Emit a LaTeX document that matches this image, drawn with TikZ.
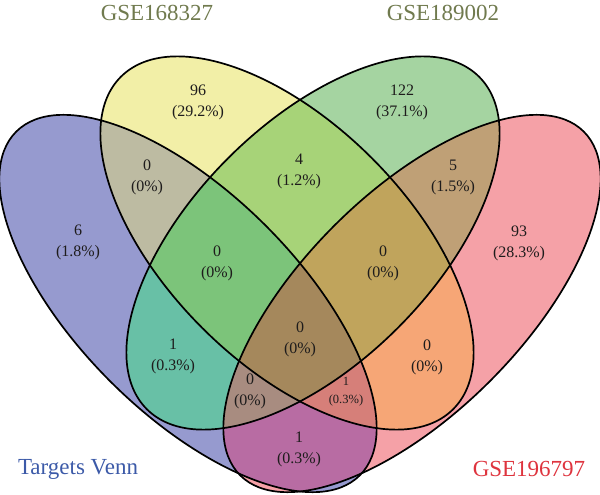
\documentclass[tikz,border=0pt]{standalone}
\usepackage{fontspec}
\setmainfont{Liberation Serif}
\definecolor{cA}{RGB}{150,154,207}
\definecolor{cB}{RGB}{242,239,167}
\definecolor{cC}{RGB}{165,212,161}
\definecolor{cD}{RGB}{245,161,167}
\definecolor{cAB}{RGB}{189,187,162}
\definecolor{cAC}{RGB}{104,192,166}
\definecolor{cAD}{RGB}{184,108,163}
\definecolor{cBC}{RGB}{167,211,120}
\definecolor{cBD}{RGB}{246,166,118}
\definecolor{cCD}{RGB}{191,160,118}
\definecolor{cABC}{RGB}{124,196,122}
\definecolor{cABD}{RGB}{214,127,121}
\definecolor{cACD}{RGB}{168,140,128}
\definecolor{cBCD}{RGB}{192,164,92}
\definecolor{cABCD}{RGB}{165,136,92}
\definecolor{olivecat}{RGB}{112,122,78}
\definecolor{bluecat}{RGB}{60,90,168}
\definecolor{redcat}{RGB}{222,52,62}
\definecolor{numtxt}{RGB}{30,28,28}
\newcommand\clipEA{\clip[rotate around={-45:(188,303.5)}] (188,303.5) ellipse [x radius=243pt, y radius=110pt];}
\newcommand\clipEB{\clip[rotate around={-45:(287,243)}] (287,243) ellipse [x radius=235pt, y radius=120pt];}
\newcommand\clipEC{\clip[rotate around={45:(313,243)}] (313,243) ellipse [x radius=235pt, y radius=120pt];}
\newcommand\clipED{\clip[rotate around={45:(412,303.5)}] (412,303.5) ellipse [x radius=243pt, y radius=110pt];}
\newcommand\regfill[2]{\begin{scope}#1\fill[#2] (0,0) rectangle (600,495);\end{scope}}
\begin{document}
\begin{tikzpicture}[x=1pt,y=-1pt,
  lab/.style={font=\fontsize{16}{21}\selectfont, align=center, text=numtxt, inner sep=0pt},
  slab/.style={font=\fontsize{12.5}{18}\selectfont, align=center, text=numtxt, inner sep=0pt},
  cat/.style={font=\fontsize{23}{23}\selectfont, inner sep=0pt},
  setline/.style={draw=black, line width=1.7pt}]
\useasboundingbox (0,0) rectangle (600,495);
% region fills (painter order by number of sets)
\regfill{\clipEA}{cA}
\regfill{\clipEB}{cB}
\regfill{\clipEC}{cC}
\regfill{\clipED}{cD}
\regfill{\clipEA\clipEB}{cAB}
\regfill{\clipEA\clipEC}{cAC}
\regfill{\clipEA\clipED}{cAD}
\regfill{\clipEB\clipEC}{cBC}
\regfill{\clipEB\clipED}{cBD}
\regfill{\clipEC\clipED}{cCD}
\regfill{\clipEA\clipEB\clipEC}{cABC}
\regfill{\clipEA\clipEB\clipED}{cABD}
\regfill{\clipEA\clipEC\clipED}{cACD}
\regfill{\clipEB\clipEC\clipED}{cBCD}
\regfill{\clipEA\clipEB\clipEC\clipED}{cABCD}
% outlines
\draw[setline, rotate around={-45:(188,303.5)}] (188,303.5) ellipse [x radius=243pt, y radius=110pt];
\draw[setline, rotate around={-45:(287,243)}] (287,243) ellipse [x radius=235pt, y radius=120pt];
\draw[setline, rotate around={45:(313,243)}] (313,243) ellipse [x radius=235pt, y radius=120pt];
\draw[setline, rotate around={45:(412,303.5)}] (412,303.5) ellipse [x radius=243pt, y radius=110pt];
% region labels
\node[lab] (rA) at (78,242.5) {6\\(1.8\%)};
\node[lab] (rB) at (198,102) {96\\(29.2\%)};
\node[lab] (rC) at (402,102) {122\\(37.1\%)};
\node[lab] (rD) at (519,243) {93\\(28.3\%)};
\node[lab] (rAB) at (147,177.5) {0\\(0\%)};
\node[lab] (rBC) at (299,171.5) {4\\(1.2\%)};
\node[lab] (rCD) at (453,177) {5\\(1.5\%)};
\node[lab] (rABC) at (217,263.5) {0\\(0\%)};
\node[lab] (rBCD) at (383,263.5) {0\\(0\%)};
\node[lab] (rAC) at (173,356.5) {1\\(0.3\%)};
\node[lab] (rBD) at (427,357.5) {0\\(0\%)};
\node[lab] (rABCD) at (300,339.5) {0\\(0\%)};
\node[lab] (rACD) at (250,391) {0\\(0\%)};
\node[slab] (rABD) at (346,392) {1\\(0.3\%)};
\node[lab] (rAD) at (299,449) {1\\(0.3\%)};
% category labels
\node[cat, text=olivecat] (catB) at (157,13) {GSE168327};
\node[cat, text=olivecat] (catC) at (443,13) {GSE189002};
\node[cat, text=bluecat] (catA) at (78,469) {Targets Venn};
\node[cat, text=redcat] (catD) at (529,469) {GSE196797};
\end{tikzpicture}
\end{document}
